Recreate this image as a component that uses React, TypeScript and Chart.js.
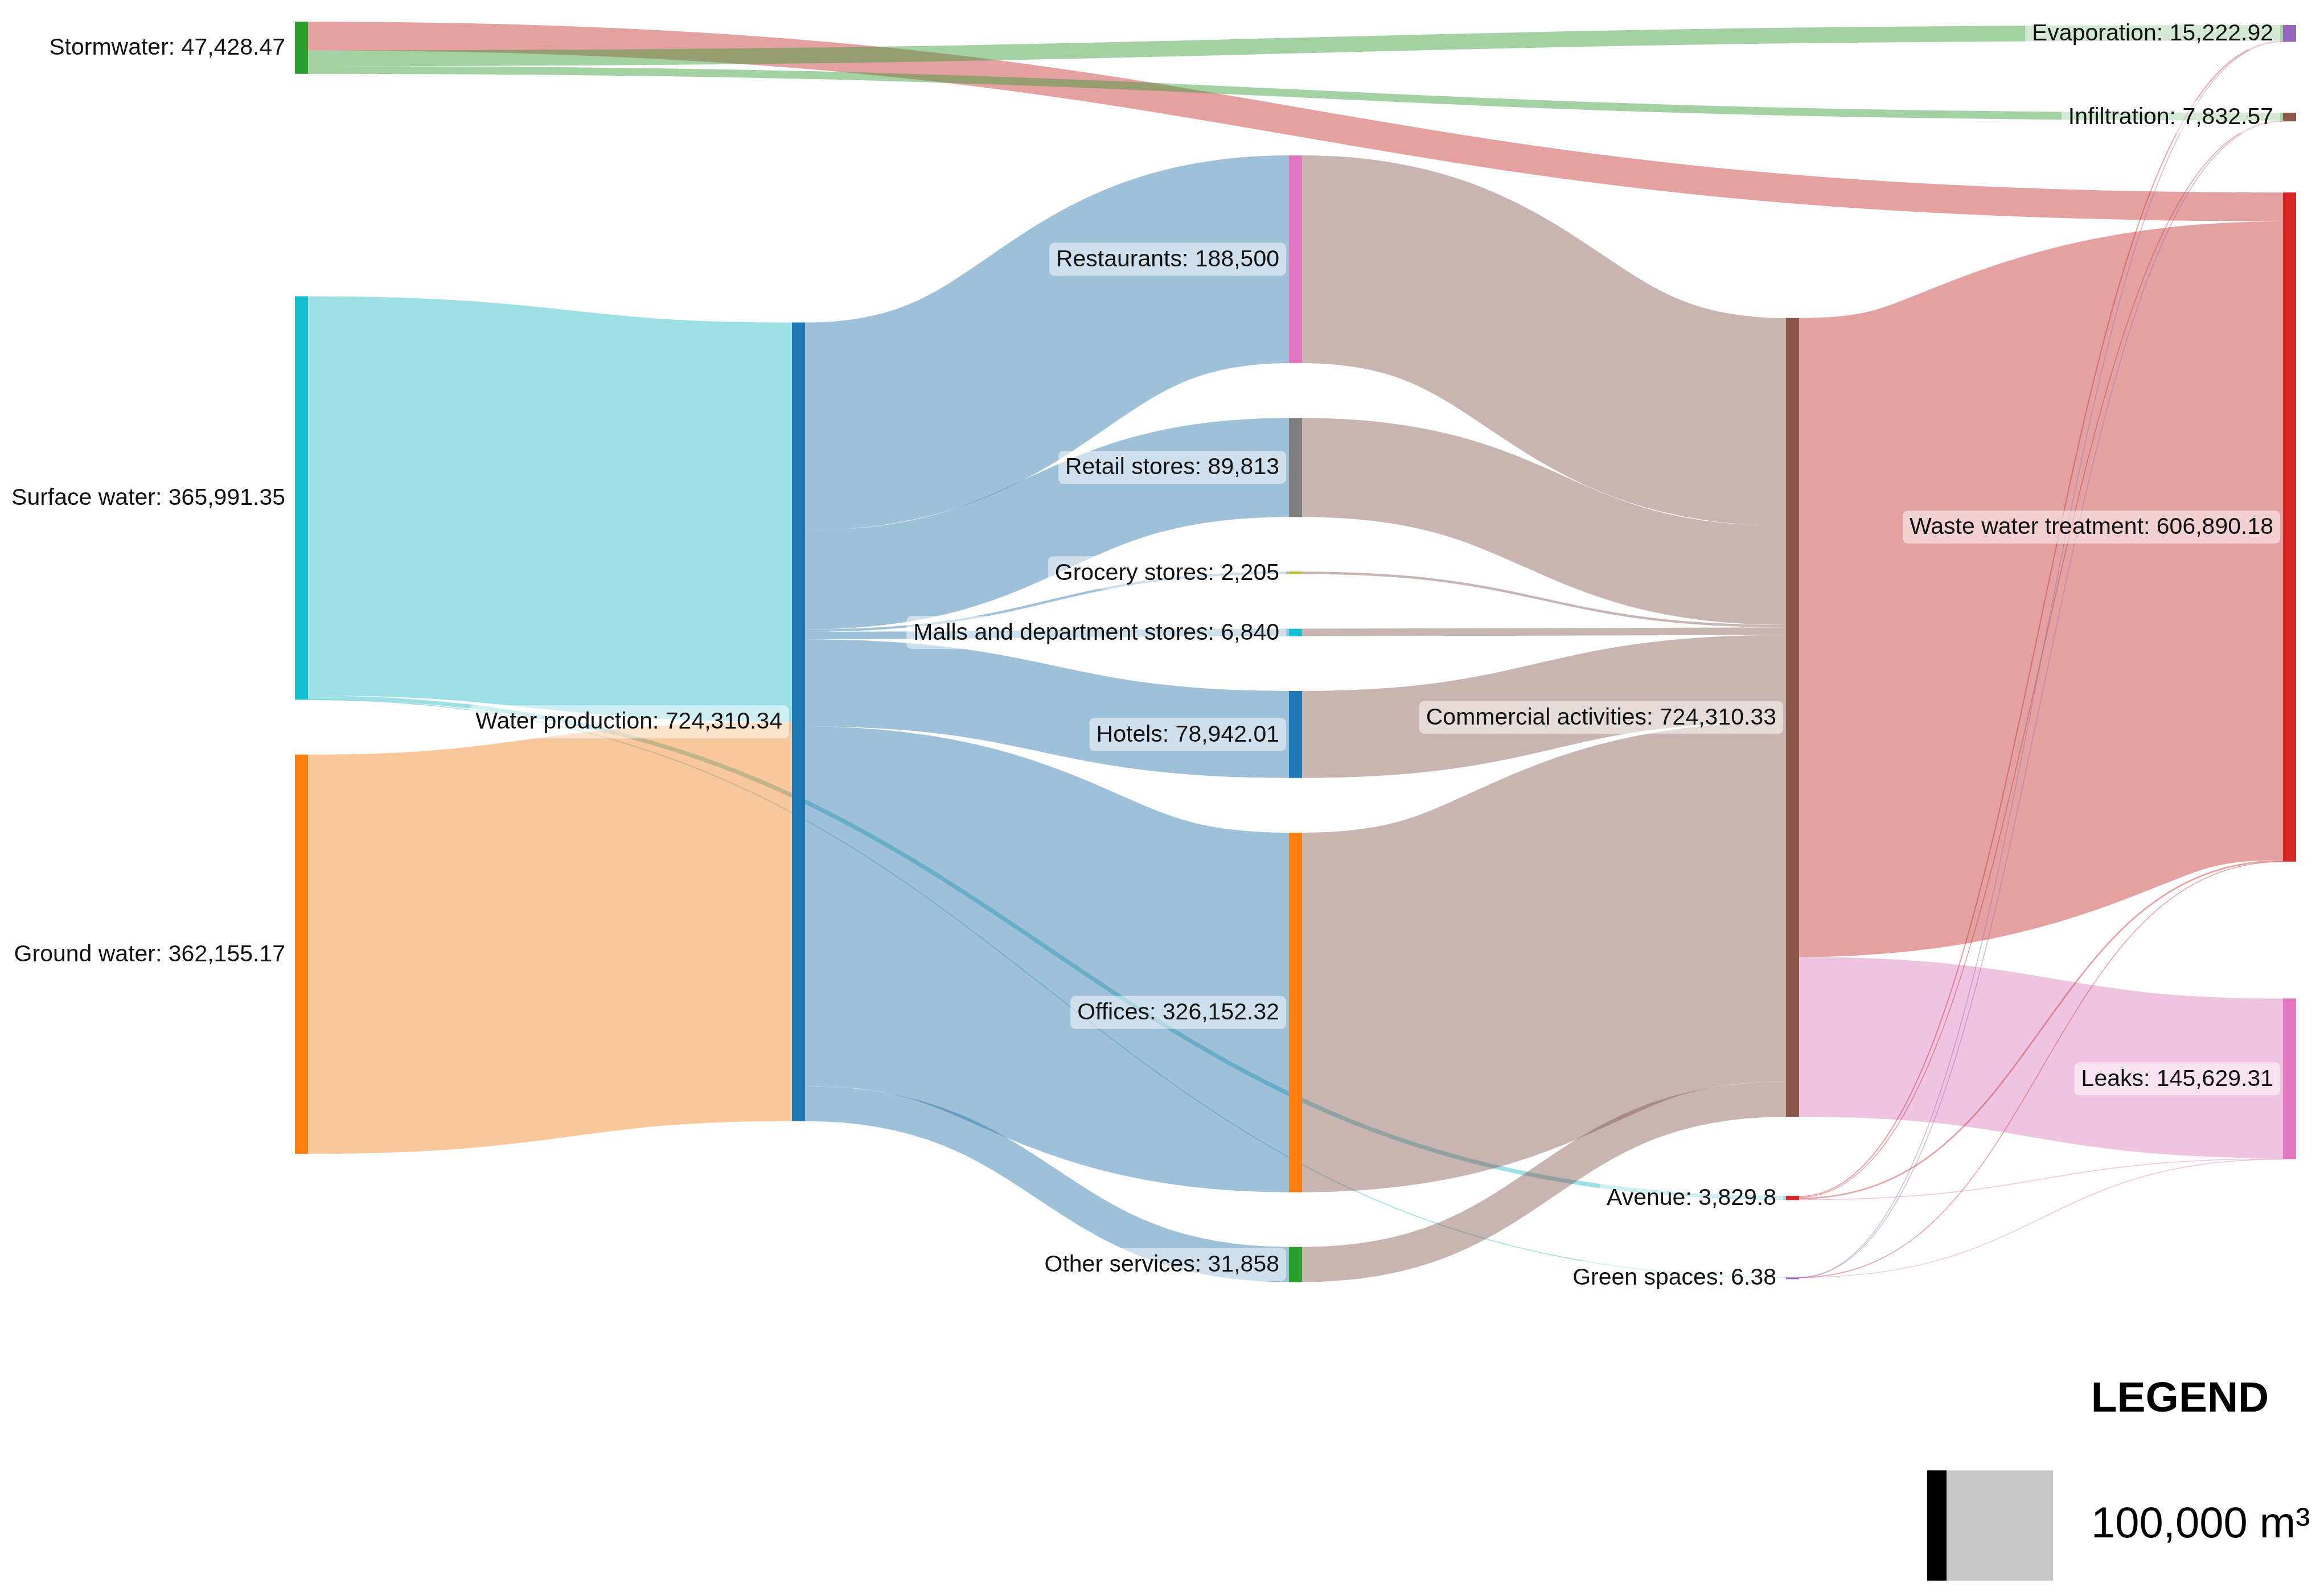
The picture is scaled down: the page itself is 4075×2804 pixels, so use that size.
import React, { useEffect, useRef } from 'react';
import { Chart, registerables } from 'chart.js';

Chart.register(...registerables);

// ---------------- DATA ----------------
const NODE_NAMES = [
  'Stormwater', 'Surface water', 'Ground water',
  'Water production',
  'Restaurants', 'Retail stores', 'Grocery stores', 'Malls and department stores', 'Hotels', 'Offices', 'Other services',
  'Commercial activities', 'Avenue', 'Green spaces',
  'Evaporation', 'Infiltration', 'Waste water treatment', 'Leaks',
];
const NODE_COLUMN = [0, 0, 0, 1, 2, 2, 2, 2, 2, 2, 2, 3, 3, 3, 4, 4, 4, 4];

const LINK_SOURCE = [
  'Stormwater', 'Stormwater', 'Stormwater',
  'Surface water', 'Surface water', 'Surface water',
  'Ground water',
  'Water production', 'Water production', 'Water production', 'Water production', 'Water production', 'Water production', 'Water production',
  'Restaurants', 'Retail stores', 'Grocery stores', 'Malls and department stores', 'Hotels', 'Offices', 'Other services',
  'Commercial activities', 'Commercial activities',
  'Avenue', 'Avenue', 'Avenue', 'Avenue',
  'Green spaces', 'Green spaces', 'Green spaces', 'Green spaces',
];
const LINK_TARGET = [
  'Waste water treatment', 'Evaporation', 'Infiltration',
  'Water production', 'Avenue', 'Green spaces',
  'Water production',
  'Restaurants', 'Retail stores', 'Grocery stores', 'Malls and department stores', 'Hotels', 'Offices', 'Other services',
  'Commercial activities', 'Commercial activities', 'Commercial activities', 'Commercial activities', 'Commercial activities', 'Commercial activities', 'Commercial activities',
  'Waste water treatment', 'Leaks',
  'Evaporation', 'Infiltration', 'Waste water treatment', 'Leaks',
  'Evaporation', 'Infiltration', 'Waste water treatment', 'Leaks',
];
const LINK_VALUE = [
  26085.66, 14228.54, 7114.27,
  362155.17, 3829.8, 6.38,
  362155.17,
  188500, 89813, 2205, 6840, 78942.01, 326152.32, 31858,
  188500, 89813, 2205, 6840, 78942.01, 326152.32, 31858,
  579448.26, 144862.07,
  992.7, 717.0, 1354.14, 765.96,
  1.68, 1.3, 2.12, 1.28,
];

const LEGEND_VALUE = 100000;
const LEGEND_TITLE = 'LEGEND';
const LEGEND_LABEL = '100,000 m³';

// ---------------- LAYOUT (in m³ along the flow axis) ----------------
const NODE_PADDING = 49600;
const GAP_BEFORE: Record<string, number> = {
  'Stormwater': 0,
  'Surface water': 201600,
  'Ground water': 49800,
  'Water production': 272900,
  'Restaurants': 121300,
  'Commercial activities': 268900,
  'Avenue': 71800,
  'Green spaces': 70200,
  'Evaporation': 3100,
  'Infiltration': 64300,
  'Waste water treatment': 64500,
  'Leaks': 124200,
};
const Y_MAX = 1414000;

// ---------------- STYLE ----------------
const W = 4075;
const H = 2804;
const PAD = { left: 529.5, right: 53.5, top: 38, bottom: 27 };
const NODE_W = 23;
const LINK_ALPHA = 0.45;
const LINK_DESAT = 0.15;
const MIN_LINK_PX = 1.5;
const FONT = '"Liberation Sans", Arial, Helvetica, sans-serif';
const LABEL_SIZE = 41;
const LABEL_GAP = 17;

const PAL: Record<string, string> = {
  blue: '#1f77b4', orange: '#ff7f0e', green: '#2ca02c', red: '#d62728', purple: '#9467bd',
  brown: '#8c564b', pink: '#e377c2', gray: '#7f7f7f', olive: '#bcbd22', cyan: '#17becf',
};
const NODE_COLOR: Record<string, string> = {
  'Stormwater': PAL.green, 'Surface water': PAL.cyan, 'Ground water': PAL.orange,
  'Water production': PAL.blue,
  'Restaurants': PAL.pink, 'Retail stores': PAL.gray, 'Grocery stores': PAL.olive,
  'Malls and department stores': PAL.cyan, 'Hotels': PAL.blue, 'Offices': PAL.orange, 'Other services': PAL.green,
  'Commercial activities': PAL.brown, 'Avenue': PAL.red, 'Green spaces': PAL.purple,
  'Evaporation': PAL.purple, 'Infiltration': PAL.brown, 'Waste water treatment': PAL.red, 'Leaks': PAL.pink,
};
// colour each link from its source ('s') or target ('t') node
const LINK_COLOR_FROM = [
  't', 's', 's',
  's', 's', 's',
  's',
  's', 's', 's', 's', 's', 's', 's',
  't', 't', 't', 't', 't', 't', 't',
  't', 't',
  's', 's', 's', 't',
  's', 's', 't', 't',
];

function linkRgba(hex: string, a: number) {
  const n = parseInt(hex.slice(1), 16);
  let r = (n >> 16) & 255, g = (n >> 8) & 255, b = n & 255;
  const lum = 0.299 * r + 0.587 * g + 0.114 * b;
  r = r * (1 - LINK_DESAT) + lum * LINK_DESAT;
  g = g * (1 - LINK_DESAT) + lum * LINK_DESAT;
  b = b * (1 - LINK_DESAT) + lum * LINK_DESAT;
  return `rgba(${Math.round(r)},${Math.round(g)},${Math.round(b)},${a})`;
}
const fmt = (v: number) => v.toLocaleString('en-US', { maximumFractionDigits: 2 });

// ---------------- LAYOUT COMPUTATION ----------------
function computeLayout() {
  const idx: Record<string, number> = {};
  NODE_NAMES.forEach((n, i) => (idx[n] = i));
  const inSum = NODE_NAMES.map(() => 0);
  const outSum = NODE_NAMES.map(() => 0);
  LINK_VALUE.forEach((v, i) => {
    outSum[idx[LINK_SOURCE[i]]] += v;
    inSum[idx[LINK_TARGET[i]]] += v;
  });
  const value = NODE_NAMES.map((_, i) => Math.max(inSum[i], outSum[i]));
  const colBottom: Record<number, number> = {};
  const top = NODE_NAMES.map((name, i) => {
    const c = NODE_COLUMN[i];
    const gap = GAP_BEFORE[name] !== undefined ? GAP_BEFORE[name] : NODE_PADDING;
    const t = (colBottom[c] !== undefined ? colBottom[c] : 0) + gap;
    colBottom[c] = t + value[i];
    return t;
  });
  const srcOff = NODE_NAMES.map(() => 0);
  const tgtOff = NODE_NAMES.map(() => 0);
  const links = LINK_VALUE.map((v, i) => {
    const s = idx[LINK_SOURCE[i]];
    const t = idx[LINK_TARGET[i]];
    const sy = top[s] + srcOff[s];
    srcOff[s] += v;
    const ty = top[t] + tgtOff[t];
    tgtOff[t] += v;
    const colorNode = LINK_COLOR_FROM[i] === 't' ? NODE_NAMES[t] : NODE_NAMES[s];
    return { s, t, v, sy, ty, color: NODE_COLOR[colorNode] };
  });
  return { value, top, links };
}

export default function App() {
  const ref = useRef<HTMLCanvasElement>(null);

  useEffect(() => {
    document.body.style.margin = '0';
    document.body.style.overflow = 'hidden';
    const layout = computeLayout();

    const sankeyPlugin = {
      id: 'sankeyDraw',
      beforeDatasetsDraw(chart: any) {
        const { ctx } = chart;
        const xs = chart.scales.x;
        const ys = chart.scales.y;
        const k = Math.abs(ys.getPixelForValue(LEGEND_VALUE) - ys.getPixelForValue(0)) / LEGEND_VALUE;
        ctx.save();
        ctx.lineCap = 'butt';
        layout.links.forEach((l) => {
          const x0 = xs.getPixelForValue(NODE_COLUMN[l.s]) + NODE_W / 2;
          const x1 = xs.getPixelForValue(NODE_COLUMN[l.t]) - NODE_W / 2;
          const y0 = ys.getPixelForValue(l.sy + l.v / 2);
          const y1 = ys.getPixelForValue(l.ty + l.v / 2);
          const xm = (x0 + x1) / 2;
          ctx.beginPath();
          ctx.moveTo(x0, y0);
          ctx.bezierCurveTo(xm, y0, xm, y1, x1, y1);
          ctx.lineWidth = Math.max(MIN_LINK_PX, l.v * k);
          ctx.strokeStyle = linkRgba(l.color, LINK_ALPHA);
          ctx.stroke();
        });
        ctx.restore();
      },
      afterDatasetsDraw(chart: any) {
        const { ctx } = chart;
        const xs = chart.scales.x;
        const ys = chart.scales.y;
        ctx.save();
        ctx.font = `${LABEL_SIZE}px ${FONT}`;
        ctx.textAlign = 'right';
        ctx.textBaseline = 'middle';
        NODE_NAMES.forEach((name, i) => {
          const text = `${name}: ${fmt(layout.value[i])}`;
          const xr = xs.getPixelForValue(NODE_COLUMN[i]) - NODE_W / 2 - LABEL_GAP;
          const ya = ys.getPixelForValue(layout.top[i]);
          const yb = ys.getPixelForValue(layout.top[i] + layout.value[i]);
          const yc = (ya + yb) / 2;
          const w = ctx.measureText(text).width;
          ctx.fillStyle = 'rgba(255,255,255,0.5)';
          ctx.beginPath();
          ctx.roundRect(xr - w - 12, yc - 29, w + 24, 58, 9);
          ctx.fill();
          ctx.fillStyle = '#111';
          ctx.fillText(text, xr, yc + 1);
        });
        ctx.restore();
      },
      afterDraw(chart: any) {
        const { ctx } = chart;
        const ys = chart.scales.y;
        const yTop = ys.getPixelForValue(Y_MAX - LEGEND_VALUE);
        const yBot = ys.getPixelForValue(Y_MAX);
        ctx.save();
        ctx.fillStyle = '#000';
        ctx.fillRect(3385, yTop, 34, yBot - yTop);
        ctx.fillStyle = '#c8c8c8';
        ctx.fillRect(3419, yTop, 187, yBot - yTop);
        ctx.fillStyle = '#000';
        ctx.font = `bold 75px ${FONT}`;
        ctx.textAlign = 'center';
        ctx.textBaseline = 'alphabetic';
        ctx.fillText(LEGEND_TITLE, 3829, 2480);
        ctx.font = `76px ${FONT}`;
        ctx.textAlign = 'left';
        ctx.fillText(LEGEND_LABEL, 3673, 2701);
        ctx.restore();
      },
    };

    const chart = new Chart(ref.current as HTMLCanvasElement, {
      type: 'bar',
      data: {
        datasets: [
          {
            data: NODE_NAMES.map((_, i) => ({ x: NODE_COLUMN[i], y: [layout.top[i], layout.top[i] + layout.value[i]] })) as any,
            backgroundColor: NODE_NAMES.map((n) => NODE_COLOR[n]),
            barThickness: NODE_W,
            borderWidth: 0,
            minBarLength: 3,
            inflateAmount: 0,
            clip: false as any,
          } as any,
        ],
      },
      options: {
        responsive: false,
        animation: false,
        devicePixelRatio: 1,
        layout: { padding: PAD },
        scales: {
          x: { type: 'linear', min: 0, max: 4, offset: false, display: false },
          y: { type: 'linear', min: 0, max: Y_MAX, reverse: true, display: false },
        },
        plugins: { legend: { display: false }, tooltip: { enabled: false } },
        events: [],
      },
      plugins: [sankeyPlugin],
    } as any);
    return () => chart.destroy();
  }, []);

  return (
    <div style={{ width: W, height: H, background: '#fff' }}>
      <canvas ref={ref} width={W} height={H} style={{ display: 'block' }} />
    </div>
  );
}
